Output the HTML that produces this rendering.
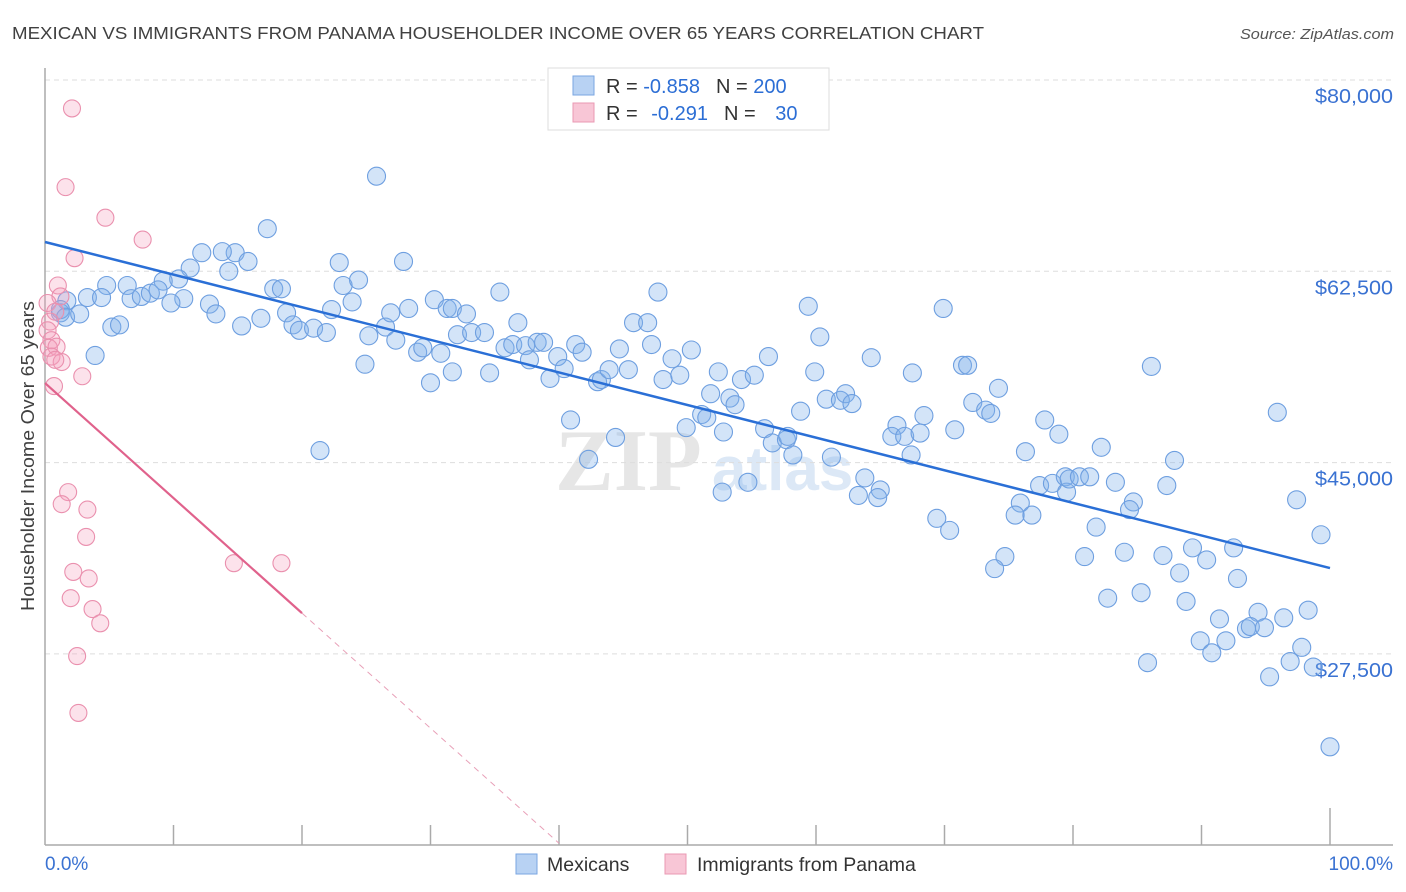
<!DOCTYPE html>
<html><head><meta charset="utf-8"><style>
body{margin:0;background:#fff;font-family:"Liberation Sans",sans-serif}
svg{display:block}
</style></head><body>
<svg id="chart" width="1406" height="892">
<text x="12" y="39" font-size="17.5" fill="#404040" textLength="972" lengthAdjust="spacingAndGlyphs">MEXICAN VS IMMIGRANTS FROM PANAMA HOUSEHOLDER INCOME OVER 65 YEARS CORRELATION CHART</text>
<text x="1394" y="39" font-size="15" fill="#555" font-style="italic" text-anchor="end" textLength="154" lengthAdjust="spacingAndGlyphs">Source: ZipAtlas.com</text>
<text x="0" y="0" transform="translate(34,456) rotate(-90)" font-size="18" fill="#404040" text-anchor="middle" textLength="310" lengthAdjust="spacingAndGlyphs">Householder Income Over 65 years</text>
<g><text x="555" y="490" font-size="88" fill="#e6e6e6" font-family="Liberation Serif,serif" font-weight="bold">ZIP</text><text x="712" y="490" font-size="62" fill="#dce8f6" font-weight="bold">atlas</text></g>
<g id="grid"></g><g id="axes"></g><g id="pts"></g><g id="lines"></g>
<g>
<rect x="548" y="68" width="281" height="62" fill="#fff" stroke="#ddd"/>
<rect x="573" y="76" width="21" height="19" fill="#b8d2f3" stroke="#7aa6e2"/>
<rect x="573" y="103" width="21" height="19" fill="#f8c6d6" stroke="#ea98b3"/>
<text x="606" y="93" font-size="20" fill="#333">R = <tspan fill="#2c6ed5">-0.858</tspan><tspan dx="16" fill="#333">N = </tspan><tspan fill="#2c6ed5">200</tspan></text>
<text x="606" y="120" font-size="20" fill="#333">R = <tspan dx="8" fill="#2c6ed5">-0.291</tspan><tspan dx="16" fill="#333">N = </tspan><tspan dx="14" fill="#2c6ed5">30</tspan></text>
</g>
<g>
<rect x="516" y="854" width="21" height="20" fill="#b8d2f3" stroke="#7aa6e2"/>
<text x="547" y="871" font-size="19.5" fill="#333">Mexicans</text>
<rect x="665" y="854" width="21" height="20" fill="#f8c6d6" stroke="#ea98b3"/>
<text x="697" y="871" font-size="19.5" fill="#333">Immigrants from Panama</text>
</g>
</svg>
<script>
const yTicks=[80000,62500,45000,27500];
const yTickLabels=["$80,000","$62,500","$45,000","$27,500"];
const xTickLabels=["0.0%","100.0%"];
const blueX=[25.8,17.3,22.9,27.9,12.2,14.8,13.8,15.8,11.3,14.3,10.4,9.2,6.4,4.8,3.3,4.4,1.7,6.7,7.5,8.2,8.8,10.8,9.8,12.8,13.3,17.8,18.4,18.8,19.3,19.8,20.9,21.9,22.3,23.2,24.4,23.9,26.5,26.9,28.3,30.3,31.3,31.7,32.8,35.4,36.8,32.1,33.2,34.2,25.2,27.3,29.0,29.4,30.8,24.9,30.0,31.7,34.6,35.8,36.4,37.4,37.7,38.3,38.8,39.3,39.9,40.4,41.3,41.8,43.0,43.3,43.9,44.7,45.4,45.8,46.9,47.2,47.7,48.1,48.8,49.4,50.3,52.4,51.8,53.3,53.7,54.2,55.2,56.3,59.4,60.3,59.9,51.1,51.5,49.9,52.8,56.0,56.6,57.7,57.8,58.2,58.8,60.8,61.9,62.3,62.8,64.3,67.5,69.9,71.4,71.8,74.2,72.2,73.2,73.6,68.4,66.3,65.9,66.9,68.1,70.8,67.4,61.2,63.8,63.3,65.0,64.8,54.7,52.7,42.3,40.9,44.4,21.4,1.2,1.2,1.6,2.7,5.2,5.8,3.9,15.3,16.8,76.3,77.8,78.9,82.2,87.9,86.1,77.4,78.4,79.4,79.5,79.7,80.5,81.3,83.3,84.7,84.4,87.3,75.9,75.5,76.8,69.4,70.4,74.7,73.9,81.8,80.9,84.0,87.0,89.3,92.5,90.4,88.3,92.8,82.7,85.3,88.8,95.9,97.4,99.3,91.4,91.9,89.9,90.8,93.5,94.4,93.8,94.9,96.4,98.3,97.8,96.9,95.3,98.7,85.8,100.0];
const blueY=[71.2,66.4,63.3,63.4,64.2,64.2,64.3,63.4,62.8,62.5,61.8,61.6,61.2,61.2,60.1,60.1,59.8,60.0,60.2,60.5,60.8,60.0,59.6,59.5,58.6,60.9,60.9,58.7,57.6,57.1,57.3,56.9,59.0,61.2,61.7,59.7,57.4,58.7,59.1,59.9,59.1,59.1,58.6,60.6,57.8,56.7,56.9,56.9,56.6,56.2,55.1,55.5,55.0,54.0,52.3,53.3,53.2,55.5,55.8,55.7,54.4,56.0,56.0,52.7,54.7,53.6,55.8,55.1,52.4,52.6,53.5,55.4,53.5,57.8,57.8,55.8,60.6,52.6,54.5,53.0,55.3,53.3,51.3,50.9,50.3,52.6,53.0,54.7,59.3,56.5,53.3,49.4,49.1,48.2,47.8,48.1,46.8,47.1,47.4,45.7,49.7,50.8,50.7,51.3,50.4,54.6,53.2,59.1,53.9,53.9,51.8,50.5,49.8,49.5,49.3,48.4,47.4,47.4,47.7,48.0,45.7,45.5,43.6,42.0,42.5,41.8,43.2,42.3,45.3,48.9,47.3,46.1,58.7,59.0,58.3,58.6,57.4,57.6,54.8,57.5,58.2,46.0,48.9,47.6,46.4,45.2,53.8,42.9,43.1,43.7,42.3,43.5,43.7,43.7,43.2,41.4,40.7,42.9,41.3,40.2,40.2,39.9,38.8,36.4,35.3,39.1,36.4,36.8,36.5,37.2,37.2,36.1,34.9,34.4,32.6,33.1,32.3,49.6,41.6,38.4,30.7,28.7,28.7,27.6,29.8,31.3,30.0,29.9,30.8,31.5,28.1,26.8,25.4,26.3,26.7,19.0];
const pinkX=[2.1,1.6,4.7,7.6,2.3,1.0,1.2,0.2,0.8,0.4,0.2,0.5,0.3,0.9,0.5,1.3,2.9,0.7,1.8,1.3,3.3,3.2,2.2,3.4,2.0,3.7,4.3,2.5,2.6,14.7,18.4,0.8];
const pinkY=[77.4,70.2,67.4,65.4,63.7,61.2,60.2,59.6,58.8,57.9,57.1,56.2,55.5,55.6,54.7,54.2,52.9,52.0,42.3,41.2,40.7,38.2,35.0,34.4,32.6,31.6,30.3,27.3,22.1,35.8,35.8,54.4];
const blueTrend=[65.18,35.35]; // values at 0% and 100%
const pinkTrend=[52.28,31.23]; // values at 0% and 20%
const NS="http://www.w3.org/2000/svg";
const X=p=>45+p*12.85;
const Y=v=>80+(80-v)*191.3/17.5;
function mk(tag,attrs,parent){const e=document.createElementNS(NS,tag);for(const k in attrs)e.setAttribute(k,attrs[k]);document.getElementById(parent).appendChild(e);return e;}
yTicks.forEach((t,i)=>{
 const g=mk('line',{x1:45,x2:1393,y1:Y(t/1000),y2:Y(t/1000),stroke:'#ddd','stroke-dasharray':'5,4'},'grid');
 
 
 const l=mk('text',{x:1393,y:Y(t/1000)+23,'text-anchor':'end','font-size':20,fill:'#3a72d2',textLength:78,lengthAdjust:'spacingAndGlyphs'},'grid');
 l.textContent=yTickLabels[i];
 
 
});
const ax=mk('line',{x1:45,x2:45,y1:68,y2:845,stroke:'#aaa','stroke-width':1.5},'axes');


const bx=mk('line',{x1:45,x2:1393,y1:845,y2:845,stroke:'#aaa','stroke-width':1.5},'axes');


for(let i=1;i<=10;i++){const t=mk('line',{x1:X(i*10),x2:X(i*10),y1:i==10?808:825,y2:845,stroke:'#aaa','stroke-width':1.5},'axes');
 
 }
const t0=mk('text',{x:45,y:870,'font-size':19,fill:'#3a72d2'},'axes');t0.textContent=xTickLabels[0];


const t1=mk('text',{x:1393,y:870,'font-size':19,fill:'#3a72d2','text-anchor':'end'},'axes');t1.textContent=xTickLabels[1];


blueX.forEach((x,i)=>{const c=mk('circle',{cx:X(x),cy:Y(blueY[i]),r:9,fill:'rgba(130,178,235,0.35)',stroke:'#6e9fe0','stroke-width':1.1},'pts');
 
 });
pinkX.forEach((x,i)=>{const c=mk('circle',{cx:X(x),cy:Y(pinkY[i]),r:8.5,fill:'rgba(245,160,190,0.3)',stroke:'#ea90ae','stroke-width':1.1},'pts');
 
 });
const bl=mk('line',{x1:X(0),y1:Y(blueTrend[0]),x2:X(100),y2:Y(blueTrend[1]),stroke:'#2a6fd6','stroke-width':2.5},'lines');


const slope=(pinkTrend[1]-pinkTrend[0])/20;
const pl=mk('line',{x1:X(0),y1:Y(pinkTrend[0]),x2:X(20),y2:Y(pinkTrend[1]),stroke:'#e0628c','stroke-width':2.2},'lines');


const pd=mk('line',{x1:X(20),y1:Y(pinkTrend[1]),x2:X(40),y2:Y(pinkTrend[0]+slope*40),stroke:'#e8a0b8','stroke-width':1,'stroke-dasharray':'6,5'},'lines');


</script>
</body></html>
